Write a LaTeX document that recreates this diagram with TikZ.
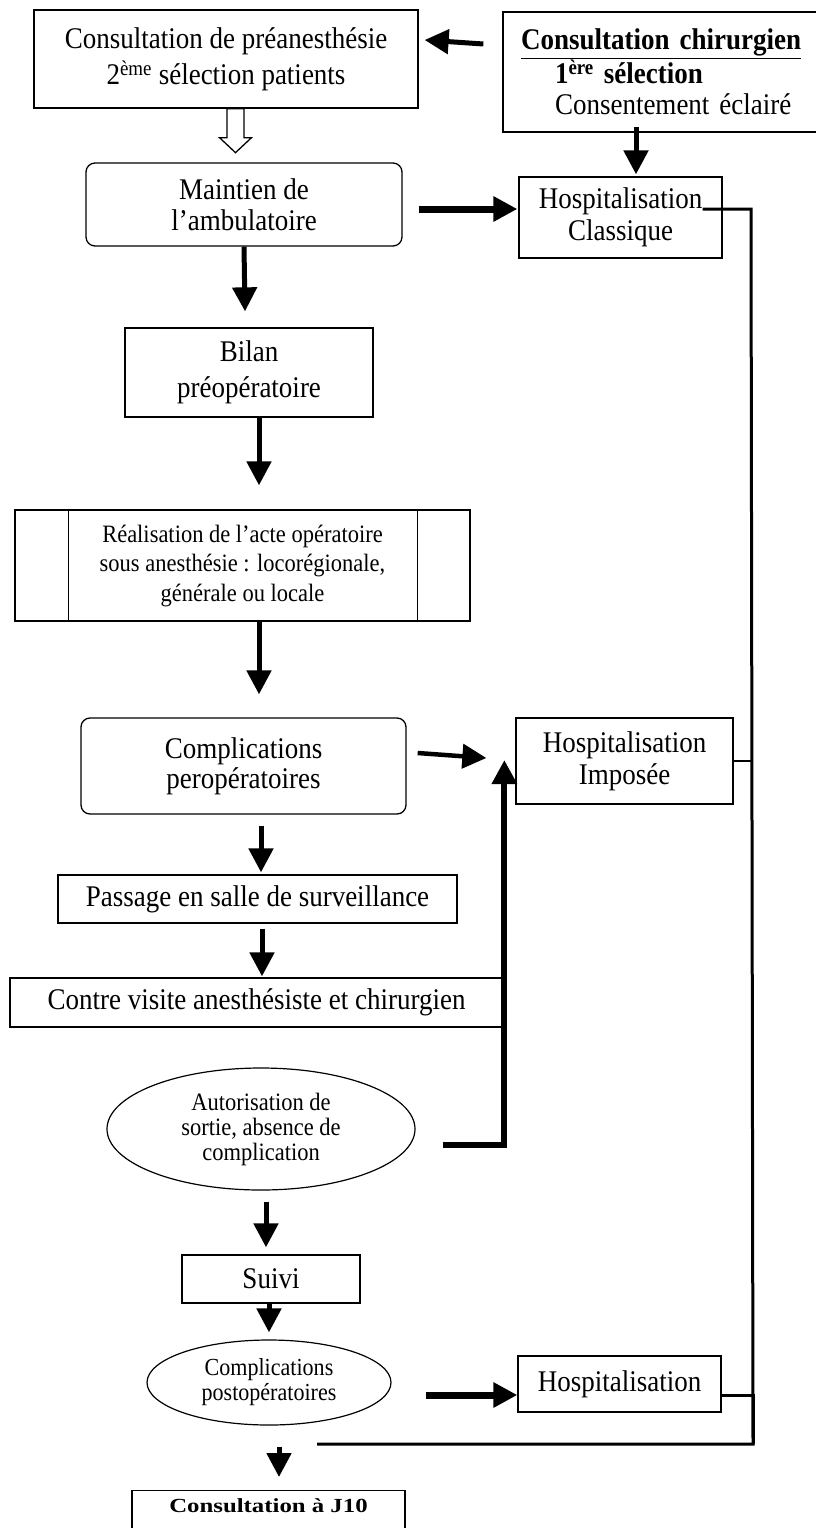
\documentclass[tikz,border=0pt]{standalone}
\usepackage{fontspec}
\setmainfont{Liberation Serif}[FakeStretch=0.9]
\newfontfamily\widebold{Liberation Serif}[FakeStretch=1.24]
\usetikzlibrary{arrows.meta,shapes.geometric,calc}

\begin{document}
\begin{tikzpicture}[x=1pt,y=-1pt,>={Triangle[width=24pt,length=24pt]},
        font=\fontsize{30}{33}\selectfont]
        \tikzstyle{box}=[draw,rectangle,line width=1.3pt,inner sep=0pt,align=center]
        \tikzstyle{roundbox}=[box,rounded corners=9pt]
        \tikzstyle{oval}=[draw,ellipse,line width=1.2pt,inner sep=0pt,align=center]
        \tikzstyle{arr}=[->,line width=5pt]
        \tikzstyle{bigarr}=[->,line width=7pt]
        \tikzstyle{ret}=[line width=3pt]
        \tikzstyle{hollow}=[draw,fill=white,line width=1.3pt]

        \useasboundingbox (0,0) rectangle (816,1528);
        \clip (0,0) rectangle (816,1528);

        \node[box,minimum width=384pt,minimum height=98pt,font=\fontsize{30}{36}\selectfont]
             (pre) at (226,59) {Consultation de préanesthésie\\2\textsuperscript{ème} sélection patients};
        \node[box,align=left,text width=290pt,inner xsep=18pt,minimum height=120pt,
              font=\fontsize{30}{31.5}\selectfont]
             (chir) at (666,72) {\underline{\textbf{Consultation chirurgien}}\\
                                 \hspace*{34pt}\textbf{1\textsuperscript{ère} sélection}\\
                                 \hspace*{34pt}Consentement éclairé};
        \node[roundbox,minimum width=316pt,minimum height=83pt,font=\fontsize{30}{31}\selectfont]
             (amb) at (244,204.5) {Maintien de\\l’ambulatoire};
        \node[box,minimum width=203pt,minimum height=81pt,font=\fontsize{30}{32}\selectfont]
             (hclass) at (620.5,217.5) {Hospitalisation\\Classique};
        \node[box,minimum width=248pt,minimum height=89pt,font=\fontsize{30}{36}\selectfont]
             (bilan) at (249,372.5) {Bilan\\préopératoire};
        \node[box,minimum width=455pt,minimum height=111pt,font=\fontsize{25}{29.5}\selectfont]
             (acte) at (242.5,565.5) {Réalisation de l’acte opératoire\\sous anesthésie : locorégionale,\\générale ou locale};
        \node[roundbox,minimum width=325pt,minimum height=96pt,font=\fontsize{30}{30}\selectfont]
             (perop) at (243.5,766) {Complications\\peropératoires};
        \node[box,minimum width=217pt,minimum height=86pt,font=\fontsize{30}{32}\selectfont]
             (himp) at (624.5,761) {Hospitalisation\\Imposée};
        \node[box,minimum width=399pt,minimum height=48pt]
             (surv) at (257.5,899) {Passage en salle de surveillance};
        \node[box,minimum width=493pt,minimum height=49pt]
             (contre) at (256.5,1002.5) {Contre visite anesthésiste et chirurgien};
        \node[oval,minimum width=308pt,minimum height=122pt,font=\fontsize{25}{25}\selectfont]
             (sortie) at (261,1129) {Autorisation de\\sortie, absence de\\complication};
        \node[box,minimum width=178pt,minimum height=48pt]
             (suivi) at (271,1279) {Suivi};
        \node[oval,minimum width=244pt,minimum height=85pt,font=\fontsize{24.5}{25}\selectfont]
             (postop) at (269,1382.5) {Complications\\postopératoires};
        \node[box,minimum width=203pt,minimum height=56pt]
             (hosp) at (619.5,1384) {Hospitalisation};
        \node[box,anchor=north,minimum width=273pt,inner ysep=8pt,text depth=40pt,
              font=\widebold\bfseries\fontsize{20}{24}\selectfont]
             (j10) at (268.5,1490) {Consultation à J10};

        % cadres du processus
        \draw[line width=1.3pt] ($(acte.north west)+(54,0)$) -- ($(acte.south west)+(54,0)$);
        \draw[line width=1.3pt] ($(acte.north east)+(-53,0)$) -- ($(acte.south east)+(-53,0)$);

        % fleche creuse
        \draw[hollow] (pre.south) ++(1,0) -- ++(0,29) -- ++(-7.5,0) -- ++(16,15)
                      -- ++(16,-15) -- ++(-7.5,0) -- ++(0,-29) -- cycle;

        \draw[arr] ($(chir.west)+(-19,-28)$) -- ($(pre.east)+(6,-19)$);
        \draw[arr] ($(chir.south)+(-30,-6)$) -- ($(hclass.north)+(15.5,-2)$);
        \draw[bigarr] ($(amb.east)+(16,4.5)$) -- ($(hclass.west)+(-1,-8.5)$);
        \draw[arr] (amb.south) -- ($(bilan.north)+(-4,-16)$);
        \draw[arr] ($(bilan.south)+(10,0)$) -- ($(acte.north)+(16.5,-24)$);
        \draw[arr] ($(acte.south)+(16.5,0)$) -- ($(perop.north)+(15.5,-23)$);
        \draw[arr,line width=4.5pt] ($(perop.east)+(11,-13)$) -- ($(himp.west)+(-29,-3)$);
        \draw[arr] ($(perop.south)+(17.5,11)$) -- ($(surv.north)+(3.5,-2)$);
        \draw[arr] ($(surv.south)+(4.5,5)$) -- ($(contre.north)+(5.5,-1)$);
        \draw[arr,line width=6pt] ($(sortie.east)+(27,16)$) -| ($(himp.west)+(-11,-1)$);
        \draw[arr] ($(sortie.south)+(5,11)$) -- ($(suivi.north)+(-5,-7)$);
        \draw[arr] ($(suivi.south)+(-2,0)$) -- ($(postop.north)+(0,-7)$);
        \draw[bigarr] ($(postop.east)+(34,12.5)$) -- ($(hosp.west)+(0,11)$);
        \draw[arr] ($(postop.south)+(10,21)$) -- ($(j10.north)+(10.5,-13)$);

        % retour vers la consultation
        \coordinate (rtop) at (751,209);
        \coordinate (rbot) at (753,1444);
        \draw[ret] ($(hclass.east)+(-20,-8.5)$) -- (rtop) -- (rbot) -- ($(j10.north)+(48.5,-46)$);
        \draw[ret,line width=2pt] (himp.east) -- (himp.east -| rtop);
        \draw[ret] ($(hosp.east)+(0,11)$) -| (rbot);
\end{tikzpicture}
\end{document}
